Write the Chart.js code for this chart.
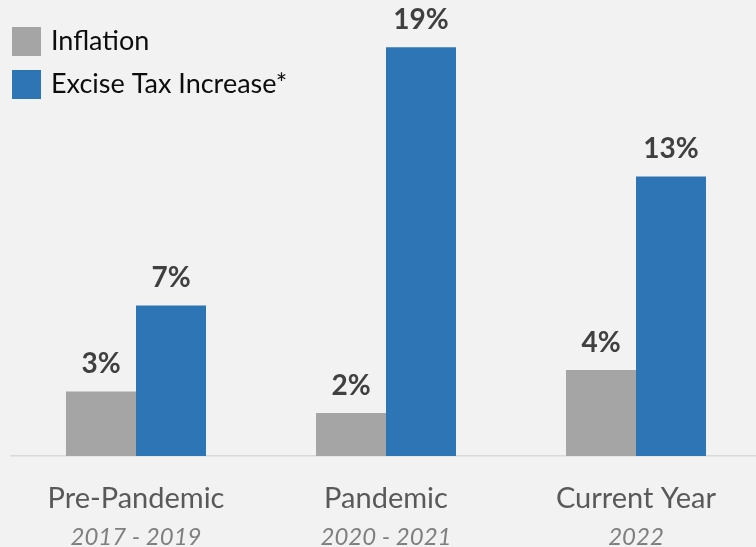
<!DOCTYPE html>
<html>
<head>
<meta charset="utf-8">
<script src="https://cdn.jsdelivr.net/npm/chart.js@4"></script>
<style>
  html, body { margin: 0; padding: 0; background: #f2f2f2; overflow: hidden; }
  #wrap { position: relative; width: 761px; height: 547px; }
</style>
</head>
<body>
<div id="wrap"><canvas id="chart"></canvas></div>
<script>
// Chart data
const periods = ['Pre-Pandemic', 'Pandemic', 'Current Year'];
const periodYears = ['2017 - 2019', '2020 - 2021', '2022'];
const inflation = [3, 2, 4];
const exciseTax = [7, 19, 13];
const seriesNames = ['Inflation', 'Excise Tax Increase*'];

const FONT = 'Lato, "Open Sans", sans-serif';

// value labels above each bar
const valueLabels = {
  id: 'valueLabels',
  afterDatasetsDraw(chart) {
    const ctx = chart.ctx;
    ctx.save();
    ctx.font = 'bold 28px ' + FONT;
    ctx.fillStyle = '#404040';
    ctx.textAlign = 'center';
    ctx.textBaseline = 'alphabetic';
    chart.data.datasets.forEach((ds, i) => {
      chart.getDatasetMeta(i).data.forEach((bar, j) => {
        ctx.fillText(ds.data[j] + '%', bar.x, bar.y - 18);
      });
    });
    ctx.restore();
  }
};

// two-line category labels: name + italic year range
const periodLabels = {
  id: 'periodLabels',
  afterDraw(chart) {
    const ctx = chart.ctx;
    const x = chart.scales.x;
    ctx.save();
    ctx.textAlign = 'center';
    ctx.textBaseline = 'alphabetic';
    periods.forEach((p, i) => {
      const px = x.getPixelForValue(i);
      ctx.font = '29px ' + FONT;
      ctx.fillStyle = '#595959';
      ctx.fillText(p, px, 508);
      ctx.font = 'italic 24px ' + FONT;
      ctx.fillStyle = '#7f7f7f';
      ctx.fillText(periodYears[i], px, 545);
    });
    ctx.restore();
  }
};

// vertical legend in the top-left corner
const cornerLegend = {
  id: 'cornerLegend',
  afterDraw(chart) {
    const ctx = chart.ctx;
    ctx.save();
    ctx.font = '27px ' + FONT;
    ctx.textBaseline = 'middle';
    chart.data.datasets.forEach((ds, i) => {
      const top = 27 + i * 43;
      ctx.fillStyle = ds.backgroundColor;
      ctx.fillRect(12, top, 29, 29);
      ctx.fillStyle = '#0d0d0d';
      ctx.fillText(ds.label, 51, top + 14);
    });
    ctx.restore();
  }
};

new Chart(document.getElementById('chart'), {
  type: 'bar',
  data: {
    labels: periods,
    datasets: [
      { label: seriesNames[0], data: inflation, backgroundColor: '#a5a5a5' },
      { label: seriesNames[1], data: exciseTax, backgroundColor: '#2e75b6' }
    ]
  },
  options: {
    responsive: true,
    maintainAspectRatio: false,
    animation: false,
    layout: { padding: { left: 11, right: 0, top: 0, bottom: 83 } },
    datasets: { bar: { barPercentage: 1, categoryPercentage: 0.56 } },
    plugins: { legend: { display: false }, tooltip: { enabled: false } },
    scales: {
      x: {
        grid: { display: false },
        ticks: { display: false },
        border: { display: true, color: '#d9d9d9', width: 1.5 }
      },
      y: { display: false, min: 0, max: 21.2 }
    }
  },
  plugins: [valueLabels, periodLabels, cornerLegend]
});
</script>
</body>
</html>
